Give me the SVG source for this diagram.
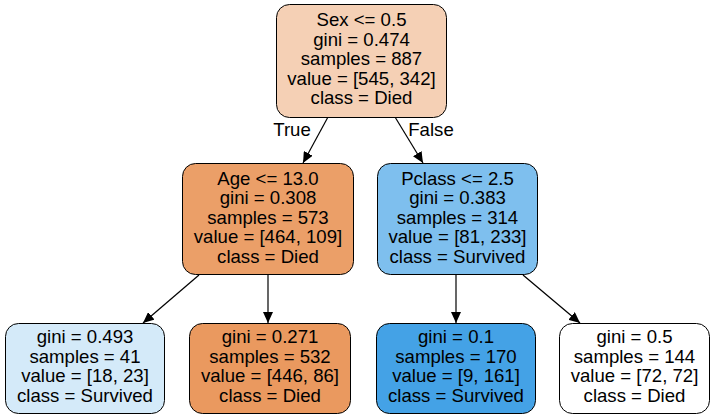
<svg xmlns="http://www.w3.org/2000/svg" width="715" height="419" viewBox="0 0 715 419">
<style>
.n rect{stroke:#000;stroke-width:1}
text{font-family:"Liberation Sans",Arial,sans-serif;font-size:18.6px;fill:#000;text-anchor:middle}
.e line{stroke:#000;stroke-width:1.2}
</style>
<defs>
<marker id="ah" markerUnits="userSpaceOnUse" markerWidth="12" markerHeight="10" refX="11" refY="5" orient="auto">
<path d="M0,0 L11,5 L0,10 Z" fill="#000"/>
</marker>
</defs>
<rect width="715" height="419" fill="#fff"/>
<g id="connectors" class="e">
<line x1="328" y1="117" x2="303" y2="163" marker-end="url(#ah)"/>
<line x1="395" y1="117" x2="423" y2="163" marker-end="url(#ah)"/>
<line x1="199" y1="275" x2="143" y2="323" marker-end="url(#ah)"/>
<line x1="268" y1="275" x2="268" y2="323" marker-end="url(#ah)"/>
<line x1="456" y1="275" x2="456" y2="323" marker-end="url(#ah)"/>
<line x1="523" y1="275" x2="580" y2="323" marker-end="url(#ah)"/>
<text x="292" y="136">True</text>
<text x="431" y="136">False</text>
</g>
<g id="n0" class="n">
<rect x="276.5" y="4.5" width="170" height="113" rx="13" fill="#f5d0b5"/>
<text x="361.5" y="26">Sex &lt;= 0.5</text>
<text x="361.5" y="45.5">gini = 0.474</text>
<text x="361.5" y="65">samples = 887</text>
<text x="361.5" y="84.5">value = [545, 342]</text>
<text x="361.5" y="104">class = Died</text>
</g>
<g id="n1" class="n">
<rect x="182.5" y="163.5" width="171" height="111" rx="13" fill="#eb9f68"/>
<text x="268" y="184.5">Age &lt;= 13.0</text>
<text x="268" y="204">gini = 0.308</text>
<text x="268" y="223.5">samples = 573</text>
<text x="268" y="243">value = [464, 109]</text>
<text x="268" y="262.5">class = Died</text>
</g>
<g id="n4" class="n">
<rect x="377.5" y="163.5" width="160" height="111" rx="13" fill="#7ebfee"/>
<text x="457.5" y="184.5">Pclass &lt;= 2.5</text>
<text x="457.5" y="204">gini = 0.383</text>
<text x="457.5" y="223.5">samples = 314</text>
<text x="457.5" y="243">value = [81, 233]</text>
<text x="457.5" y="262.5">class = Survived</text>
</g>
<g id="n2" class="n">
<rect x="5.5" y="323.5" width="159" height="90" rx="13" fill="#d4eaf9"/>
<text x="85" y="343">gini = 0.493</text>
<text x="85" y="362.5">samples = 41</text>
<text x="85" y="382">value = [18, 23]</text>
<text x="85" y="401.5">class = Survived</text>
</g>
<g id="n3" class="n">
<rect x="189.5" y="323.5" width="161" height="90" rx="13" fill="#ea995f"/>
<text x="270" y="343">gini = 0.271</text>
<text x="270" y="362.5">samples = 532</text>
<text x="270" y="382">value = [446, 86]</text>
<text x="270" y="401.5">class = Died</text>
</g>
<g id="n5" class="n">
<rect x="376.5" y="323.5" width="159" height="90" rx="13" fill="#44a2e6"/>
<text x="456" y="343">gini = 0.1</text>
<text x="456" y="362.5">samples = 170</text>
<text x="456" y="382">value = [9, 161]</text>
<text x="456" y="401.5">class = Survived</text>
</g>
<g id="n6" class="n">
<rect x="559.5" y="323.5" width="150" height="90" rx="13" fill="#ffffff"/>
<text x="634.5" y="343">gini = 0.5</text>
<text x="634.5" y="362.5">samples = 144</text>
<text x="634.5" y="382">value = [72, 72]</text>
<text x="634.5" y="401.5">class = Died</text>
</g>
</svg>
